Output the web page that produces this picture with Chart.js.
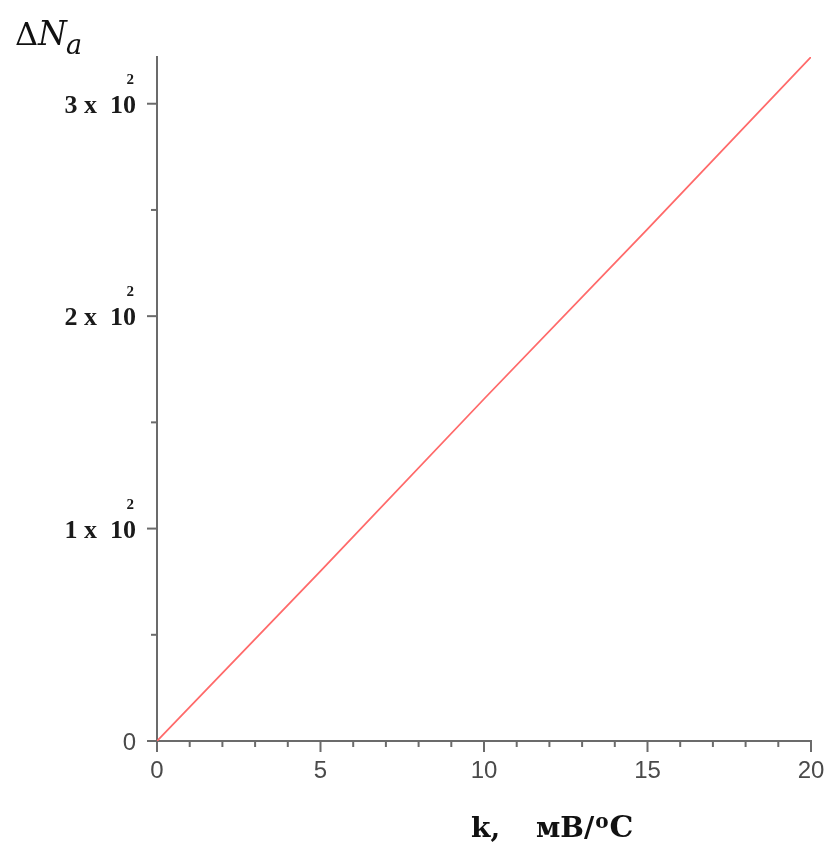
<!DOCTYPE html>
<html>
<head>
<meta charset="utf-8">
<script src="https://cdn.jsdelivr.net/npm/chart.js@4"></script>
<style>
  html, body { margin: 0; padding: 0; background: #fff; }
  #wrap { width: 827px; height: 842px; }
</style>
</head>
<body>
<div id="wrap"><canvas id="chart" width="827" height="842"></canvas></div>
<script>
// values
const kValues = [0, 5, 10, 15, 20];
const deltaN = [0, 80, 161, 241, 322];
const xTicks = [0, 5, 10, 15, 20];
const yTicks = [0, 100, 200, 300];
const yTickText = ['0', '1 x  10', '2 x  10', '3 x  10'];

const axisColor = '#6b6b6b';

// ticks + labels drawn off the chart's own scales
const axisDecor = {
  id: 'axisDecor',
  afterDraw(chart) {
    const ctx = chart.ctx;
    const xs = chart.scales.x, ys = chart.scales.y;
    const area = chart.chartArea;
    ctx.save();
    ctx.strokeStyle = axisColor;
    ctx.lineWidth = 2;
    // x ticks: every 1, longer every 5
    for (let v = xs.min; v <= xs.max; v++) {
      const px = xs.getPixelForValue(v);
      const len = v % 5 === 0 ? 11 : 6;
      ctx.beginPath();
      ctx.moveTo(px, area.bottom);
      ctx.lineTo(px, area.bottom + len);
      ctx.stroke();
    }
    // y ticks: every 50, longer every 100
    for (let v = 0; v <= ys.max; v += 50) {
      const py = ys.getPixelForValue(v);
      const len = v % 100 === 0 ? 10 : 6;
      ctx.beginPath();
      ctx.moveTo(area.left, py);
      ctx.lineTo(area.left - len, py);
      ctx.stroke();
    }
    // x tick labels
    ctx.fillStyle = '#4a4a4a';
    ctx.font = '24px "Liberation Sans"';
    ctx.textAlign = 'center';
    ctx.textBaseline = 'middle';
    xTicks.forEach(v => ctx.fillText(String(v), xs.getPixelForValue(v), area.bottom + 30));
    // y tick labels
    ctx.textAlign = 'right';
    yTicks.forEach((v, i) => {
      const py = ys.getPixelForValue(v);
      const rx = area.left - 21;
      if (v === 0) {
        ctx.fillStyle = '#4a4a4a';
        ctx.font = '24px "Liberation Sans"';
        ctx.textBaseline = 'middle';
        ctx.fillText(yTickText[i], rx, py + 2);
      } else {
        ctx.fillStyle = '#1a1a1a';
        ctx.font = 'bold 26px "Liberation Serif"';
        ctx.textBaseline = 'alphabetic';
        ctx.fillText(yTickText[i], rx, py + 9);
        ctx.font = 'bold 15px "Liberation Serif"';
        ctx.fillText('2', rx - 2, py - 20);
      }
    });
    // x axis title
    ctx.fillStyle = '#111';
    ctx.textAlign = 'left';
    ctx.textBaseline = 'alphabetic';
    const tb = 837;
    ctx.font = 'bold 28px "DejaVu Serif"';
    ctx.fillText('k,', 471, tb);
    let tx = 536;
    ctx.fillText('мВ/', tx, tb);
    tx += ctx.measureText('мВ/').width;
    ctx.font = 'bold 20px "DejaVu Serif"';
    ctx.fillText('o', tx + 1, tb - 9);
    tx += ctx.measureText('o').width + 2;
    ctx.font = 'bold 30px "DejaVu Serif"';
    ctx.fillText('C', tx, tb);

    // y axis title
    let lx = 15;
    ctx.font = '32px "DejaVu Serif"';
    ctx.fillText('Δ', lx, 45);
    lx += ctx.measureText('Δ').width;
    ctx.font = 'italic 33px "DejaVu Serif"';
    ctx.fillText('N', lx, 45);
    lx += ctx.measureText('N').width - 1;
    ctx.font = 'italic 27px "DejaVu Serif"';
    ctx.fillText('a', lx, 54);
    ctx.restore();
  }
};

new Chart(document.getElementById('chart'), {
  type: 'line',
  data: {
    labels: kValues,
    datasets: [{
      data: kValues.map((k, i) => ({ x: k, y: deltaN[i] })),
      borderColor: '#ff6a6a',
      borderWidth: 1.8,
      pointRadius: 0,
      tension: 0,
      fill: false
    }]
  },
  options: {
    responsive: false,
    animation: false,
    events: [],
    layout: { padding: { left: 0, top: 57, right: 16, bottom: 0 } },
    plugins: { legend: { display: false }, tooltip: { enabled: false } },
    scales: {
      x: {
        type: 'linear', min: 0, max: 20,
        grid: { display: false },
        border: { display: true, color: axisColor, width: 2 },
        ticks: { display: false },
        afterFit: s => { s.height = 101; }
      },
      y: {
        type: 'linear', min: 0, max: 322,
        grid: { display: false },
        border: { display: true, color: axisColor, width: 2 },
        ticks: { display: false },
        afterFit: s => { s.width = 157; }
      }
    }
  },
  plugins: [axisDecor]
});
</script>
</body>
</html>
